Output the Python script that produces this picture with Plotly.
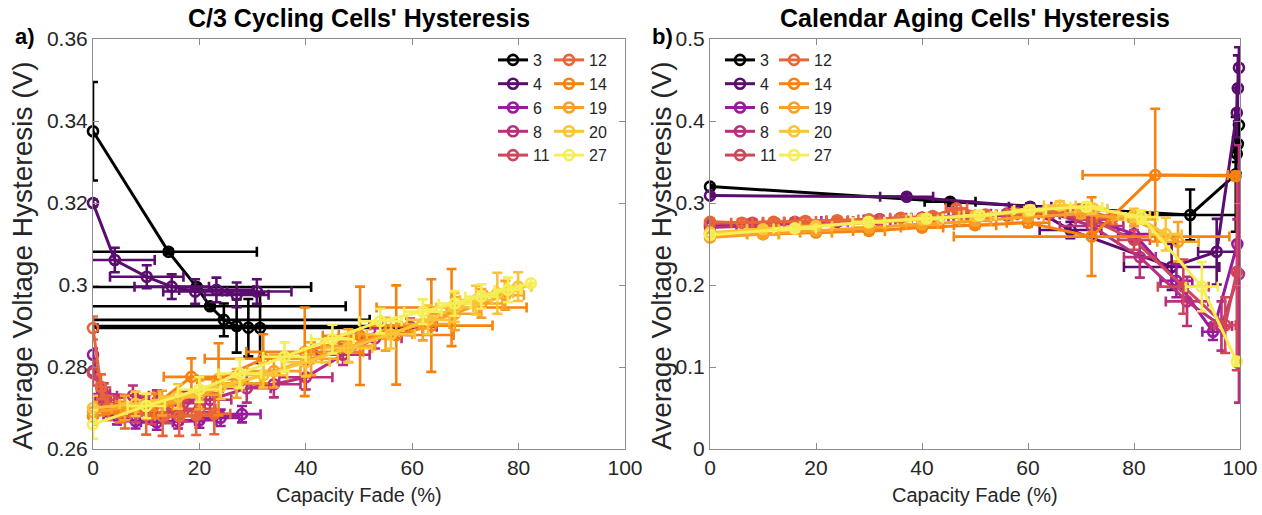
import plotly.graph_objects as go

# ---------------- legend / series ----------------
series_names = ["3", "4", "6", "8", "11", "12", "14", "19", "20", "27"]
series_colors = ["#000000", "#5a0d6e", "#9a1a9e", "#b8307c", "#d0465a",
                 "#e8653a", "#f7820f", "#f9a126", "#fbc437", "#f6ee55"]

# ---------------- a) C/3 cycling cells ----------------
cyc3_x = [0, 14.2, 19.5, 22.0, 24.6, 27.0, 29.2, 31.4]
cyc3_y = [0.3375, 0.3081, 0.2995, 0.2948, 0.2915, 0.2900, 0.2896, 0.2895]
cyc3_xe = [0, 16.6, 21.5, 25.5, 27.4, 31.0, 30.8, 30.6]
cyc3_ye = [0.012, 0.0006, 0.0006, 0.0006, 0.004, 0.0065, 0.007, 0.0085]

cyc4_x = [0, 4.1, 10.1, 14.8, 19.2, 23.2, 27.0, 30.8]
cyc4_y = [0.3200, 0.3061, 0.3020, 0.2996, 0.2984, 0.2988, 0.2976, 0.2984]
cyc4_xe = [0, 7.5, 6.9, 7.0, 6.0, 7.0, 6.0, 6.5]
cyc4_ye = [0.0008, 0.0030, 0.0028, 0.0030, 0.0030, 0.0030, 0.0030, 0.0030]

cyc6_x = [0, 1.5, 4.5, 8.0, 12.0, 16.0, 20.0, 24.0, 28.0]
cyc6_y = [0.2830, 0.2725, 0.2680, 0.2668, 0.2665, 0.2668, 0.2670, 0.2676, 0.2685]
cyc6_xe = [0, 1.2, 2.5, 3.0, 3.0, 3.2, 3.2, 3.5, 3.5]
cyc6_ye = [0.0015, 0.0020, 0.0020, 0.0018, 0.0018, 0.0018, 0.0018, 0.0020, 0.0020]

cyc8_x = [0, 2.0, 7.5, 12.0, 17.0, 22.0, 28.9, 34.0, 40.0, 47.0, 53.0, 59.6]
cyc8_y = [0.2790, 0.2735, 0.2730, 0.2715, 0.2712, 0.2720, 0.2748, 0.2758, 0.2775, 0.2830, 0.2870, 0.2898]
cyc8_xe = [0, 1.2, 3.0, 3.5, 4.0, 4.0, 4.5, 5.0, 5.0, 5.0, 5.0, 5.0]
cyc8_ye = [0.0020, 0.0025, 0.0025, 0.0028, 0.0028, 0.0030, 0.0035, 0.0032, 0.0030, 0.0025, 0.0025, 0.0020]

cyc11_x = [0, 2.5, 5.0, 8.0, 11.0, 14.0, 17.0, 20.0]
cyc11_y = [0.2785, 0.2720, 0.2700, 0.2690, 0.2686, 0.2688, 0.2692, 0.2698]
cyc11_xe = [0, 1.5, 2.0, 2.5, 2.5, 3.0, 3.0, 3.0]
cyc11_ye = [0.0030, 0.0030, 0.0025, 0.0025, 0.0025, 0.0025, 0.0025, 0.0025]

cyc12_x = [0, 1.5, 2.8, 6.0, 10.0, 13.1, 16.2, 19.4, 22.8]
cyc12_y = [0.2895, 0.2752, 0.2700, 0.2690, 0.2683, 0.2680, 0.2680, 0.2682, 0.2686]
cyc12_xe = [0, 0.8, 1.5, 3.0, 3.0, 3.0, 3.0, 3.0, 3.0]
cyc12_ye = [0.0028, 0.0030, 0.0030, 0.0040, 0.0048, 0.0048, 0.0048, 0.0048, 0.0050]

cyc14_x = [0, 5.0, 11.5, 18.5, 23.6, 32.0, 39.8, 50.2, 57.0, 63.6, 67.4]
cyc14_y = [0.2680, 0.2690, 0.2705, 0.2776, 0.2770, 0.2820, 0.2837, 0.2876, 0.2878, 0.2901, 0.2945]
cyc14_xe = [0, 3.0, 3.5, 5.2, 4.0, 11.0, 11.0, 7.0, 10.8, 11.5, 14.1]
cyc14_ye = [0.0020, 0.0025, 0.0030, 0.0045, 0.0088, 0.0060, 0.0108, 0.0120, 0.0121, 0.0113, 0.0094]

cyc19_x = [0, 6.0, 13.0, 20.0, 27.0, 34.0, 41.0, 48.0, 55.0, 62.0, 68.0, 73.0, 77.5]
cyc19_y = [0.2690, 0.2700, 0.2712, 0.2732, 0.2760, 0.2790, 0.2820, 0.2852, 0.2880, 0.2905, 0.2930, 0.2955, 0.2975]
cyc19_xe = [0, 2.5, 3.5, 4.0, 4.5, 5.0, 5.0, 5.0, 5.0, 5.0, 4.5, 4.0, 3.5]
cyc19_ye = [0.0025, 0.0030, 0.0030, 0.0035, 0.0035, 0.0040, 0.0040, 0.0040, 0.0040, 0.0040, 0.0040, 0.0035, 0.0035]

cyc20_x = [0, 8.0, 16.0, 24.0, 32.0, 40.0, 48.0, 56.0, 63.0, 68.0, 72.0, 76.0, 79.9]
cyc20_y = [0.2700, 0.2710, 0.2728, 0.2752, 0.2780, 0.2812, 0.2846, 0.2880, 0.2915, 0.2945, 0.2963, 0.2980, 0.2996]
cyc20_xe = [0, 3.0, 3.5, 4.0, 4.5, 4.5, 4.5, 4.5, 4.0, 3.5, 3.0, 3.0, 2.5]
cyc20_ye = [0.0030, 0.0030, 0.0030, 0.0030, 0.0030, 0.0035, 0.0035, 0.0035, 0.0035, 0.0035, 0.0035, 0.0050, 0.0035]

cyc27_x = [0, 10.0, 20.0, 27.6, 36.0, 45.0, 54.0, 62.0, 68.0, 73.0, 78.0, 82.3]
cyc27_y = [0.2660, 0.2705, 0.2745, 0.2784, 0.2825, 0.2868, 0.2912, 0.2935, 0.2955, 0.2972, 0.2988, 0.3004]
cyc27_xe = [0, 3.5, 4.0, 4.0, 4.0, 4.0, 4.0, 3.5, 3.0, 3.0, 2.5, 0]
cyc27_ye = [0.0035, 0.0030, 0.0030, 0.0035, 0.0035, 0.0035, 0.0030, 0.0030, 0.0030, 0.0030, 0.0030, 0]

# ---------------- b) calendar aging cells ----------------
cal3_x = [0, 45.3, 90.6, 99.2, 99.4, 99.6, 99.8]
cal3_y = [0.320, 0.3016, 0.2854, 0.335, 0.360, 0.372, 0.395]
cal3_xe = [0, 4.8, 9.0, 0.4, 0.3, 0.3, 0.3]
cal3_ye = [0.002, 0.003, 0.031, 0.070, 0.010, 0.010, 0.012]

cal4_x = [0, 37.1, 60.4, 68.0, 87.1, 95.6, 99.4, 99.6, 99.8]
cal4_y = [0.309, 0.3077, 0.2955, 0.2670, 0.2220, 0.2406, 0.410, 0.440, 0.465]
cal4_xe = [0, 5.0, 4.0, 5.8, 9.0, 3.5, 0.3, 0.3, 0.3]
cal4_ye = [0.002, 0.003, 0.004, 0.010, 0.028, 0.040, 0.030, 0.040, 0.025]

cal6_x = [0, 8, 16, 24, 32, 40, 48, 56, 64, 72, 80, 88, 94.9, 99.5]
cal6_y = [0.272, 0.274, 0.276, 0.277, 0.279, 0.281, 0.283, 0.285, 0.286, 0.280, 0.262, 0.205, 0.143, 0.250]
cal6_xe = [0, 2, 2, 2, 2, 2, 2, 2, 2, 3, 3, 3, 2, 0.3]
cal6_ye = [0.004, 0.004, 0.004, 0.004, 0.004, 0.004, 0.004, 0.004, 0.005, 0.006, 0.010, 0.020, 0.010, 0.030]

cal8_x = [0, 8, 16, 24, 32, 40, 48, 56, 64, 72, 81.1, 90, 96.5, 99.8]
cal8_y = [0.270, 0.272, 0.275, 0.278, 0.280, 0.282, 0.284, 0.287, 0.289, 0.272, 0.234, 0.180, 0.150, 0.2135]
cal8_xe = [0, 3, 3, 3, 3, 3, 3, 3, 3, 6, 3, 4, 2, 0.2]
cal8_ye = [0.004, 0.004, 0.004, 0.004, 0.004, 0.004, 0.004, 0.004, 0.005, 0.010, 0.025, 0.030, 0.030, 0.157]

cal11_x = [0, 8, 16, 24, 32, 40, 48, 56, 64, 72, 80, 89.3, 97.2, 99.4]
cal11_y = [0.275, 0.276, 0.277, 0.278, 0.280, 0.282, 0.284, 0.286, 0.288, 0.280, 0.255, 0.198, 0.151, 0.216]
cal11_xe = [0, 2, 2, 2, 2, 2, 2, 2, 2, 3, 3, 4.8, 2.0, 0.3]
cal11_ye = [0.004, 0.004, 0.004, 0.004, 0.004, 0.004, 0.004, 0.004, 0.005, 0.008, 0.012, 0.033, 0.034, 0.120]

cal12_x = [0, 6, 12, 18, 24, 30, 36, 42, 46.5, 52, 58, 64, 70, 76]
cal12_y = [0.277, 0.276, 0.277, 0.278, 0.279, 0.280, 0.282, 0.284, 0.2935, 0.286, 0.287, 0.289, 0.292, 0.282]
cal12_xe = [0, 2, 2, 2, 2, 2, 2, 2, 2, 2, 2, 2, 3, 3]
cal12_ye = [0.004, 0.004, 0.004, 0.004, 0.004, 0.004, 0.004, 0.004, 0.004, 0.004, 0.004, 0.005, 0.006, 0.008]

cal14_x = [0, 10, 20, 30, 40, 50, 60, 72, 84.0, 99.2]
cal14_y = [0.262, 0.262, 0.264, 0.266, 0.270, 0.273, 0.276, 0.259, 0.334, 0.333]
cal14_xe = [0, 3, 3, 3, 4, 4, 4, 26, 13.7, 0.5]
cal14_ye = [0.004, 0.004, 0.004, 0.004, 0.004, 0.004, 0.005, 0.048, 0.081, 0.005]

cal19_x = [0, 10, 20, 30, 40, 50, 60, 70, 80, 88.3]
cal19_y = [0.258, 0.262, 0.266, 0.270, 0.274, 0.278, 0.283, 0.287, 0.280, 0.2528]
cal19_xe = [0, 3, 3, 3, 3, 3, 3, 3, 4, 3.9]
cal19_ye = [0.004, 0.004, 0.004, 0.004, 0.004, 0.004, 0.004, 0.005, 0.008, 0.024]

cal20_x = [0, 10, 20, 30, 40, 50, 60, 66, 72, 80, 86]
cal20_y = [0.264, 0.268, 0.272, 0.276, 0.280, 0.284, 0.290, 0.297, 0.293, 0.285, 0.262]
cal20_xe = [0, 3, 3, 3, 3, 3, 3, 3, 3, 3, 3]
cal20_ye = [0.004, 0.004, 0.004, 0.004, 0.004, 0.004, 0.005, 0.005, 0.006, 0.008, 0.020]

cal27_x = [0, 16, 29.9, 40.9, 50.9, 60.4, 71, 81.4, 92.8, 99.4]
cal27_y = [0.261, 0.269, 0.277, 0.281, 0.285, 0.2915, 0.2955, 0.283, 0.198, 0.1065]
cal27_xe = [0, 4, 3, 3, 3, 3, 3, 3, 3, 0.3]
cal27_ye = [0.004, 0.004, 0.004, 0.004, 0.004, 0.005, 0.005, 0.008, 0.030, 0.005]

cyc_data = [(cyc3_x, cyc3_y, cyc3_xe, cyc3_ye), (cyc4_x, cyc4_y, cyc4_xe, cyc4_ye),
            (cyc6_x, cyc6_y, cyc6_xe, cyc6_ye), (cyc8_x, cyc8_y, cyc8_xe, cyc8_ye),
            (cyc11_x, cyc11_y, cyc11_xe, cyc11_ye), (cyc12_x, cyc12_y, cyc12_xe, cyc12_ye),
            (cyc14_x, cyc14_y, cyc14_xe, cyc14_ye), (cyc19_x, cyc19_y, cyc19_xe, cyc19_ye),
            (cyc20_x, cyc20_y, cyc20_xe, cyc20_ye), (cyc27_x, cyc27_y, cyc27_xe, cyc27_ye)]
cal_data = [(cal3_x, cal3_y, cal3_xe, cal3_ye), (cal4_x, cal4_y, cal4_xe, cal4_ye),
            (cal6_x, cal6_y, cal6_xe, cal6_ye), (cal8_x, cal8_y, cal8_xe, cal8_ye),
            (cal11_x, cal11_y, cal11_xe, cal11_ye), (cal12_x, cal12_y, cal12_xe, cal12_ye),
            (cal14_x, cal14_y, cal14_xe, cal14_ye), (cal19_x, cal19_y, cal19_xe, cal19_ye),
            (cal20_x, cal20_y, cal20_xe, cal20_ye), (cal27_x, cal27_y, cal27_xe, cal27_ye)]

x_ticks = [0, 20, 40, 60, 80, 100]
a_yticks = [0.26, 0.28, 0.30, 0.32, 0.34, 0.36]
a_yticktext = ["0.26", "0.28", "0.3", "0.32", "0.34", "0.36"]
b_yticks = [0, 0.1, 0.2, 0.3, 0.4, 0.5]
b_yticktext = ["0", "0.1", "0.2", "0.3", "0.4", "0.5"]

FONT = "Arial, Liberation Sans, sans-serif"
TXT = "#262626"
W, H = 1262, 515

fig = go.Figure()


def add_series(data, xa, ya, legends):
    for i, (name, col, (x, y, xe, ye)) in enumerate(zip(series_names, series_colors, data)):
        fig.add_trace(go.Scatter(
            x=x, y=y, name=name, mode="lines+markers", xaxis=xa, yaxis=ya,
            legend=legends[0] if i < 5 else legends[1],
            line=dict(color=col, width=3),
            marker=dict(symbol="circle-open", size=10, color=col, line=dict(width=2.6, color=col)),
            error_x=dict(type="data", array=xe, color=col, thickness=2.6, width=5),
            error_y=dict(type="data", array=ye, color=col, thickness=2.6, width=5),
            cliponaxis=False,
        ))


add_series(cyc_data, "x", "y", ("legend", "legend2"))
add_series(cal_data, "x2", "y2", ("legend3", "legend4"))

ax_common = dict(showline=True, linecolor="#8c8c8c", linewidth=1, mirror="ticks",
                 ticks="inside", ticklen=6, tickcolor="#8c8c8c", showgrid=False,
                 zeroline=False, automargin=False,
                 tickfont=dict(family=FONT, size=21, color=TXT))

ydom = [1 - 449 / H, 1 - 39 / H]
fig.update_layout(
    template="none", autosize=False,
    width=W, height=H, margin=dict(l=0, r=0, t=0, b=0, pad=0),
    plot_bgcolor="white", paper_bgcolor="white",
    xaxis=dict(domain=[93 / W, 625 / W], range=[0, 100], tickvals=x_ticks, anchor="y", **ax_common),
    yaxis=dict(domain=ydom, range=[0.26, 0.36], tickvals=a_yticks, ticktext=a_yticktext, anchor="x", **ax_common),
    xaxis2=dict(domain=[710 / W, 1240 / W], range=[0, 100], tickvals=x_ticks, anchor="y2", **ax_common),
    yaxis2=dict(domain=ydom, range=[0, 0.5], tickvals=b_yticks, ticktext=b_yticktext, anchor="x2", **ax_common),
)

leg_common = dict(font=dict(family=FONT, size=16, color=TXT), bgcolor="rgba(0,0,0,0)",
                  borderwidth=0, itemwidth=30, xanchor="left", yanchor="top",
                  y=1 - 43 / H, tracegroupgap=0)
fig.update_layout(
    legend=dict(x=493 / W, **leg_common),
    legend2=dict(x=549 / W, **leg_common),
    legend3=dict(x=720 / W, **leg_common),
    legend4=dict(x=774 / W, **leg_common),
)

ann = []
for cx, title, lab, lx, ytx in [(359, "C/3 Cycling Cells' Hysteresis", "a)", 25, 22),
                                (975, "Calendar Aging Cells' Hysteresis", "b)", 663, 661)]:
    ann.append(dict(x=cx / W, y=1 - 18 / H, xref="paper", yref="paper", text="<b>" + title + "</b>",
                    showarrow=False, font=dict(family=FONT, size=25, color="#000000"),
                    xanchor="center", yanchor="middle"))
    ann.append(dict(x=lx / W, y=1 - 36 / H, xref="paper", yref="paper", text="<b>" + lab + "</b>",
                    showarrow=False, font=dict(family=FONT, size=22, color="#000000"),
                    xanchor="center", yanchor="middle"))
    ann.append(dict(x=(cx) / W, y=1 - 495 / H, xref="paper", yref="paper", text="Capacity Fade (%)",
                    showarrow=False, font=dict(family=FONT, size=20, color=TXT),
                    xanchor="center", yanchor="middle"))
    ann.append(dict(x=ytx / W, y=1 - 256 / H, xref="paper", yref="paper",
                    text="Average Voltage Hysteresis (V)", textangle=-90,
                    showarrow=False, font=dict(family=FONT, size=28, color=TXT),
                    xanchor="center", yanchor="middle"))
fig.update_layout(annotations=ann)

fig.write_html("out.html")
